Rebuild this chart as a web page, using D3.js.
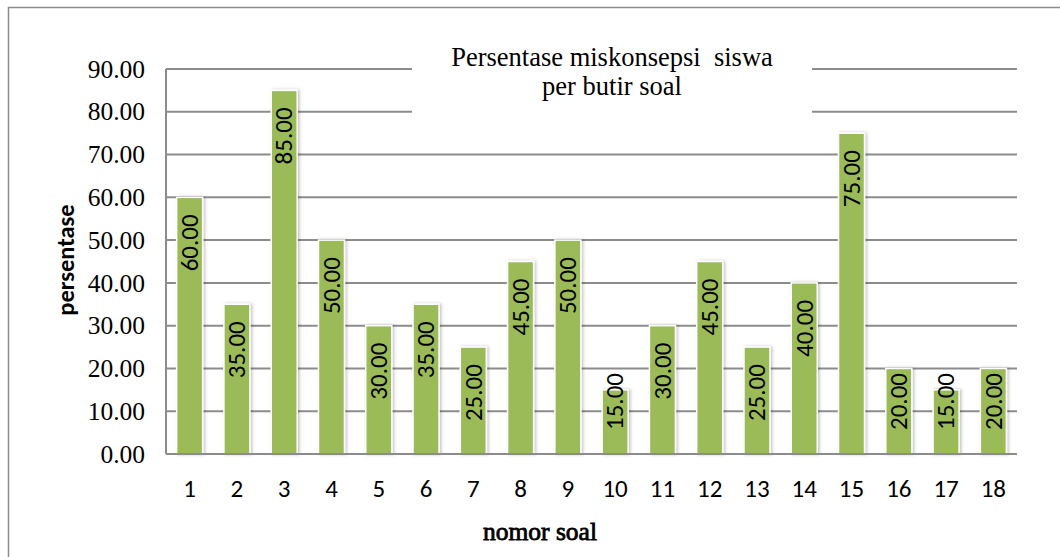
<!DOCTYPE html>
<html><head><meta charset="utf-8">
<script src="https://cdn.jsdelivr.net/npm/d3@7"></script>
<style>body{margin:0;background:#fff}svg{display:block}</style>
</head><body>
<svg id="chart" width="1060" height="557"></svg>
<script>
const categories = ["1","2","3","4","5","6","7","8","9","10","11","12","13","14","15","16","17","18"];
const values = [60,35,85,50,30,35,25,45,50,15,30,45,25,40,75,20,15,20];
const yTicks = [0,10,20,30,40,50,60,70,80,90];
const titleLines = ["Persentase miskonsepsi  siswa","per butir soal"];
const xTitle = "nomor soal";
const yTitle = "persentase";

const svg = d3.select("#chart");
const W = 1060, H = 557;
const m = {left:166, right:1017, top:69, bottom:454};
const SERIF = "'Liberation Serif', 'Times New Roman', serif";
const SANS = "Carlito, Calibri, Lato, sans-serif";

const defs = svg.append("defs");
const f = defs.append("filter").attr("id","sh").attr("x","-30%").attr("y","-10%").attr("width","160%").attr("height","120%");
f.append("feDropShadow").attr("dx",1.5).attr("dy",0).attr("stdDeviation",1.5).attr("flood-color","#000").attr("flood-opacity",0.25);

// outer border
svg.append("path").attr("d",`M8.5,${H+2}V7.5H${W+2}`).attr("fill","none").attr("stroke","#8c8c8c").attr("stroke-width",1.5);

const x = d3.scaleBand().domain(categories).range([m.left,m.right]).paddingInner(0.45).paddingOuter(0.225);
const y = d3.scaleLinear().domain([0,90]).range([m.bottom,m.top]);

// gridlines
svg.append("g").selectAll("line").data(yTicks).join("line")
  .attr("x1",m.left).attr("x2",m.right)
  .attr("y1",d=>y(d)).attr("y2",d=>y(d))
  .attr("stroke","#8c8c8c").attr("stroke-width",2);

// y axis line
svg.append("line").attr("x1",m.left).attr("x2",m.left).attr("y1",y(90)).attr("y2",y(0))
  .attr("stroke","#8c8c8c").attr("stroke-width",2);

// title background box
svg.append("rect").attr("x",412).attr("y",30).attr("width",400).attr("height",92).attr("fill","#fff");

// bars
svg.append("g").selectAll("rect").data(values).join("rect")
  .attr("x",(d,i)=>x(categories[i]))
  .attr("width",x.bandwidth())
  .attr("y",d=>y(d))
  .attr("height",d=>y(0)-y(d))
  .attr("fill","#9bbb59").attr("stroke","#fff").attr("stroke-width",1.5)
  .attr("filter","url(#sh)");

// baseline on top
svg.append("line").attr("x1",m.left).attr("x2",m.right).attr("y1",y(0)).attr("y2",y(0))
  .attr("stroke","#8c8c8c").attr("stroke-width",2);

// bar labels
svg.append("g").selectAll("text").data(values).join("text")
  .attr("transform",(d,i)=>{
    const cx = x(categories[i]) + x.bandwidth()/2;
    const top = Math.min(y(d)+17, y(0)-81);
    return `translate(${cx},${top}) rotate(-90)`;
  })
  .attr("text-anchor","end").attr("dy","0.33em")
  .attr("font-family",SANS).attr("font-size",25).attr("fill","#000")
  .text(d=>d3.format(".2f")(d));

// y tick labels
svg.append("g").selectAll("text").data(yTicks).join("text")
  .attr("x",145).attr("y",d=>y(d)).attr("dy","0.34em")
  .attr("text-anchor","end")
  .attr("font-family",SERIF).attr("font-size",25.5).attr("fill","#000")
  .text(d=>d3.format(".2f")(d));

// x tick labels
svg.append("g").selectAll("text").data(categories).join("text")
  .attr("x",d=>x(d)+x.bandwidth()/2).attr("y",497)
  .attr("text-anchor","middle")
  .attr("font-family",SANS).attr("font-size",25).attr("fill","#000")
  .text(d=>d);

// title
svg.append("g").selectAll("text").data(titleLines).join("text")
  .attr("x",612).attr("y",(d,i)=>66+i*29)
  .attr("text-anchor","middle")
  .attr("font-family",SERIF).attr("font-size",26.5).attr("fill","#000")
  .attr("xml:space","preserve").style("white-space","pre")
  .text(d=>d);

// x title (serif bold simulated with a stroke)
svg.append("text").attr("x",540).attr("y",540).attr("text-anchor","middle")
  .attr("font-family",SERIF).attr("font-size",25.5).attr("fill","#000")
  .attr("stroke","#000").attr("stroke-width",0.8)
  .text(xTitle);

// y title
svg.append("text").attr("transform",`translate(66,260) rotate(-90)`).attr("text-anchor","middle").attr("dy","0.33em")
  .attr("font-family",SANS).attr("font-weight","bold").attr("font-size",24.5).attr("fill","#000")
  .text(yTitle);
</script>
</body></html>
